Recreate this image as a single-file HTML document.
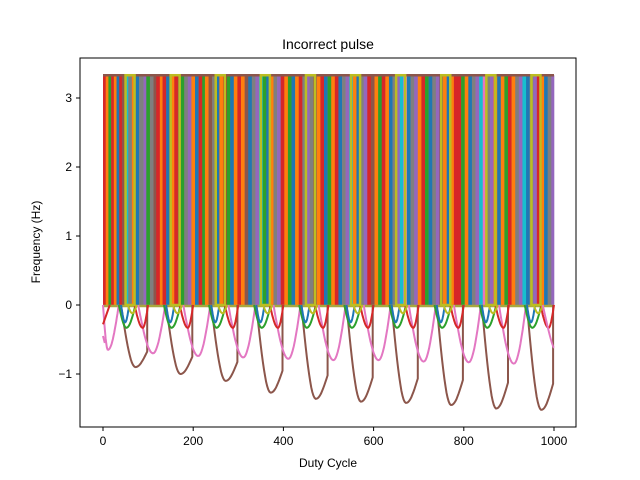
<!DOCTYPE html>
<html><head><meta charset="utf-8"><style>
body{margin:0;background:#fff}
svg{display:block;font-family:"Liberation Sans",sans-serif}
</style></head><body>
<svg id="c" width="640" height="480">
<rect x="0" y="0" width="640" height="480" fill="#fff"/>
<g id="plot"></g>
<rect x="80" y="58" width="496" height="369" fill="none" stroke="#000" stroke-width="1"/>
<g id="ticks" font-size="12"></g>
<text x="328" y="49" text-anchor="middle" font-size="14">Incorrect pulse</text>
<text x="328" y="467" text-anchor="middle" font-size="12">Duty Cycle</text>
<text transform="translate(40,242) rotate(-90)" text-anchor="middle" font-size="12">Frequency (Hz)</text>
</svg>
<script>
const xTicks=[0,200,400,600,800,1000];
const yTicks=[-1,0,1,2,3];
const palette=["#1f77b4","#ff7f0e","#2ca02c","#d62728","#9467bd","#8c564b","#e377c2","#7f7f7f","#bcbd22","#17becf"];
const stripeX=[0,6,12,18,24,30,36,42,48,56,64,72,80,90,96,104,112,118,126,132,140,150,158,166,172,180,188,196,204,212,220,226,234,242,250,258,266,274,282,290,298,306,314,322,330,338,346,354,362,370,378,386,394,402,410,418,426,434,442,450,458,466,474,482,490,498,506,514,522,530,538,546,554,562,570,578,586,594,602,610,618,626,634,642,650,658,666,674,682,690,698,706,714,722,730,738,746,754,762,770,778,786,794,802,810,818,826,834,842,850,858,866,874,882,890,898,906,914,922,930,938,946,954,962,970,978,986,994,1000];
const stripeC=[3,1,2,3,1,0,3,5,9,7,1,0,7,4,2,7,5,3,1,3,0,1,3,5,2,7,4,1,0,3,2,1,5,7,0,1,3,2,0,1,3,1,5,0,7,4,9,2,0,1,7,4,3,1,2,0,1,3,7,4,7,5,1,3,0,2,1,3,0,7,4,9,1,0,7,4,3,5,1,2,3,1,0,7,4,9,6,0,7,4,1,3,2,0,7,4,5,1,0,1,3,3,2,1,0,7,4,9,6,7,4,1,0,1,2,3,1,7,4,9,0,7,4,3,1,0,7,4,1];
const cycleStart=[0,100,200,300,400,500,600,700,800,900];
const brownMin=[-0.9,-1.0,-1.1,-1.27,-1.36,-1.4,-1.42,-1.45,-1.5,-1.52];
const pinkMin=[-0.65,-0.7,-0.74,-0.76,-0.78,-0.8,-0.8,-0.82,-0.83,-0.85];
const greenMin=[-0.33,-0.33,-0.33,-0.33,-0.33,-0.33,-0.33,-0.33,-0.33,-0.33];
const redMin=[-0.33,-0.33,-0.33,-0.33,-0.33,-0.33,-0.33,-0.33,-0.33,-0.33];
const blueMin=[-0.25,-0.25,-0.25,-0.25,-0.25,-0.25,-0.25,-0.25,-0.25,-0.25];
const yellowMin=[-0.12,-0.12,-0.12,-0.12,-0.12,-0.12,-0.12,-0.12,-0.12,-0.12];
const pulseHigh=3.33;
const X=v=>103+v*0.451, Y=v=>305-v*69;
const NS="http://www.w3.org/2000/svg";
const plot=document.getElementById('plot'), tg=document.getElementById('ticks');
function mk(tag,attrs,parent){const e=document.createElementNS(NS,tag);for(const k in attrs)e.setAttribute(k,attrs[k]);parent.appendChild(e);return e;}
for(let i=0;i<stripeX.length-1;i++){
  const r=mk('rect',{x:X(stripeX[i]),y:Y(pulseHigh),width:X(stripeX[i+1])-X(stripeX[i])+0.3,height:Y(0)-Y(pulseHigh),fill:palette[stripeC[i%stripeC.length]]},plot);
  
  
}
const topL=mk('line',{x1:X(0),x2:X(1000),y1:Y(pulseHigh),y2:Y(pulseHigh),stroke:'#8c564b','stroke-width':2.5},plot);


const botL=mk('line',{x1:X(0),x2:X(1000),y1:Y(0)+1,y2:Y(0)+1,stroke:'#a8a840','stroke-width':2.5},plot);


function dip(x0,x1,xm,ymin,yend,col,name){
  let d='';const n=24;
  for(let i=0;i<=n;i++){
    const x=x0+(x1-x0)*i/n;let y;
    if(x<=xm){const u=(x-x0)/(xm-x0);y=ymin*Math.sin(u*Math.PI/2);}
    else{const u=(x-xm)/(x1-xm);y=ymin+(yend-ymin)*(1-Math.cos(u*Math.PI/2));}
    d+=(i?'L':'M')+X(x).toFixed(1)+','+Y(y).toFixed(1);
  }
  if(yend!==0)d+='L'+X(x1).toFixed(1)+','+Y(0).toFixed(1);
  const p=mk('path',{d:d,fill:'none',stroke:col,'stroke-width':2},plot);
  
  
}
cycleStart.forEach((s,i)=>{
  dip(s+40,s+98,s+72,brownMin[i],brownMin[i]*0.75,palette[5],'brown-dip');
  if(i===0){dip(0,35,11,pinkMin[0],0,palette[6],'pink-dip');}
  if(i<9)dip(s+78,s+138,s+111,pinkMin[i+1],0,palette[6],'pink-dip');
  dip(s+35,s+72,s+52,greenMin[i],0,palette[2],'green-dip');
  dip(s+70,s+100,s+88,redMin[i],0,palette[3],'red-dip');
  dip(s+40,s+58,s+49,blueMin[i],0,palette[0],'blue-dip');
  dip(s+55,s+75,s+65,yellowMin[i],0,palette[8],'yellow-dip');
  const yb=mk('rect',{x:X(s+50),y:Y(pulseHigh),width:X(s+70)-X(s+50),height:Y(0)-Y(pulseHigh),fill:'none',stroke:palette[8],'stroke-width':2.5},plot);
  
  
});
const rs=mk('path',{d:`M${X(0)},${Y(-0.28)}L${X(15)},${Y(0)}`,fill:'none',stroke:palette[3],'stroke-width':2},plot);


const ps=mk('path',{d:`M${X(0)},${Y(-0.45)}L${X(4)},${Y(-0.55)}`,fill:'none',stroke:palette[6],'stroke-width':2},plot);


const pe=mk('path',{d:`M${X(975)},${Y(0)}Q${X(995)},${Y(-0.6)} ${X(1000)},${Y(-0.62)}`,fill:'none',stroke:palette[6],'stroke-width':2},plot);


xTicks.forEach(v=>{
  const l=mk('line',{x1:X(v),x2:X(v),y1:427,y2:431,stroke:'#000'},tg);
  
  
  const t=mk('text',{x:X(v),y:445,'text-anchor':'middle'},tg);t.textContent=v;
  
  
});
yTicks.forEach(v=>{
  const l=mk('line',{x1:76,x2:80,y1:Y(v),y2:Y(v),stroke:'#000'},tg);
  
  
  const t=mk('text',{x:72,y:Y(v)+4,'text-anchor':'end'},tg);t.textContent=v<0?'\u2212'+(-v):v;
  
  
});
</script>
</body></html>
